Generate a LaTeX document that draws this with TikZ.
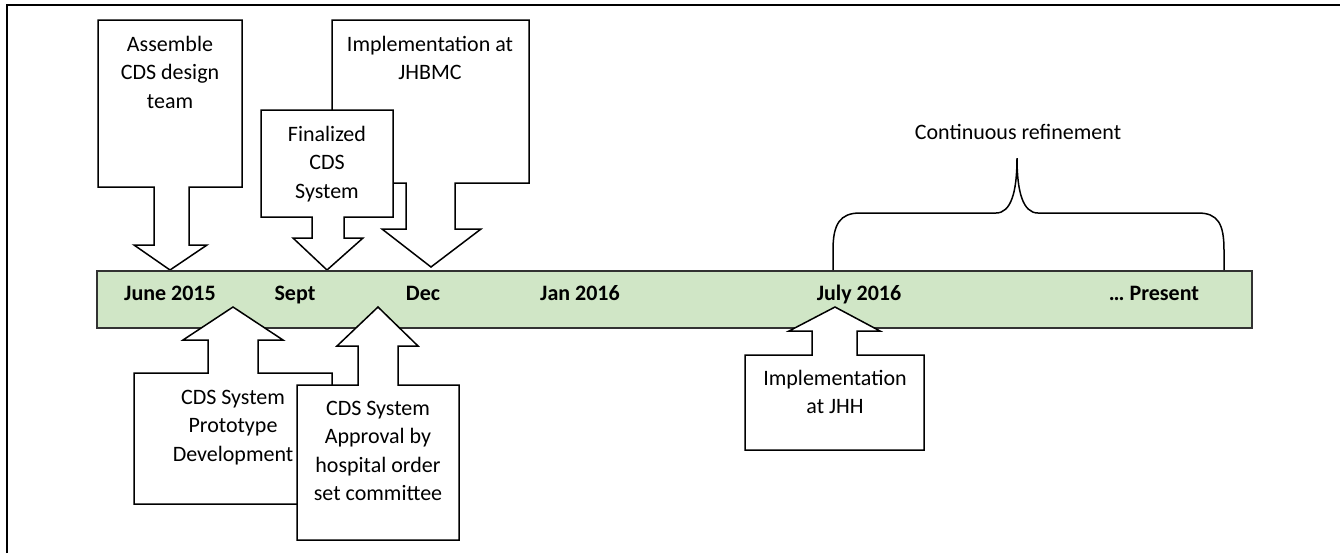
\documentclass[tikz,border=0pt]{standalone}
\usepackage{fontspec}
\setmainfont{Carlito}
\definecolor{barfill}{RGB}{208,230,198}
\definecolor{barline}{RGB}{50,50,50}
\begin{document}
\begin{tikzpicture}[x=0.5pt,y=-0.5pt,
  callout/.style={draw=black,fill=white,line width=0.75pt,line join=miter},
  bartxt/.style={font=\fontsize{11}{14.25}\selectfont\bfseries,anchor=base,inner sep=0pt},
  ctxt/.style={font=\fontsize{11}{14.25}\selectfont,align=center,anchor=north,inner sep=0pt},
  frame/.style={draw=black,line width=1pt},
  brace/.style={draw=black,line width=0.75pt}]
\useasboundingbox (0,0) rectangle (1340,553);
% frame
\draw[frame] (7,553) -- (7,5) -- (1340,5);
% top callouts (down arrows)
\draw[callout] (332,20) -- (529,20) -- (529,183) -- (455,183) -- (455,229) -- (481,229) -- (431,267) -- (382,229) -- (406,229) -- (406,183) -- (332,183) -- cycle;
\node[ctxt] (jhbmc) at (430,35.5) {Implementation at\\JHBMC};
\draw[callout] (261,110) -- (393,110) -- (393,217) -- (344,217) -- (344,238) -- (363,238) -- (327,270) -- (293,238) -- (312,238) -- (312,217) -- (261,217) -- cycle;
\node[ctxt] (final) at (327,125.5) {Finalized\\CDS\\System};
\draw[callout] (98,20) -- (242,20) -- (242,187) -- (189,187) -- (189,245) -- (207,245) -- (170,270) -- (134,245) -- (154,245) -- (154,187) -- (98,187) -- cycle;
\node[ctxt] (assemble) at (170,35.5) {Assemble\\CDS design\\team};
% timeline bar
\draw[fill=barfill,draw=barline,line width=1pt] (97,271) rectangle (1252,328);
\node[bartxt] (jun) at (170,300) {June 2015};
\node[bartxt] (sep) at (295,300) {Sept};
\node[bartxt] (dec) at (423,300) {Dec};
\node[bartxt] (jan) at (580,300) {Jan 2016};
\node[bartxt] (jul) at (859,300) {July 2016};
\node[bartxt] (pres) at (1154,300) {… Present};
% bottom callouts (up arrows)
\draw[callout] (134,504) -- (332,504) -- (332,373) -- (258,373) -- (258,340) -- (283,340) -- (233,307) -- (183,340) -- (208,340) -- (208,373) -- (134,373) -- cycle;
\node[ctxt] (proto) at (233,389.5) {CDS System\\Prototype\\Development};
\draw[callout] (297,540) -- (459,540) -- (459,385) -- (398,385) -- (398,346) -- (418,346) -- (378,307) -- (337,346) -- (358,346) -- (358,385) -- (297,385) -- cycle;
\node[ctxt] (approval) at (378,400.5) {CDS System\\Approval by\\hospital order\\set committee};
\draw[callout] (745,450) -- (924,450) -- (924,355) -- (857,355) -- (857,331) -- (880,331) -- (835,307) -- (789,331) -- (812,331) -- (812,355) -- (745,355) -- cycle;
\node[ctxt] (jhh) at (835,369.5) {Implementation\\at JHH};
% brace
\coordinate (bl) at (833,270);
\coordinate (br) at (1224,270);
\coordinate (btip) at (1017,158);
\draw[brace] (bl) -- (833,250) .. controls (833,224) and (840,213) .. (860,213) -- (996,213) .. controls (1011,213) and (1017,192) .. (btip) .. controls (1017,192) and (1023,213) .. (1038,213) -- (1198,213) .. controls (1218,213) and (1224,224) .. (1224,250) -- (br);
\node[font=\fontsize{11}{14.25}\selectfont,anchor=base,inner sep=0pt] (cont) at (1018,139) {Continuous refinement};
\end{tikzpicture}
\end{document}
